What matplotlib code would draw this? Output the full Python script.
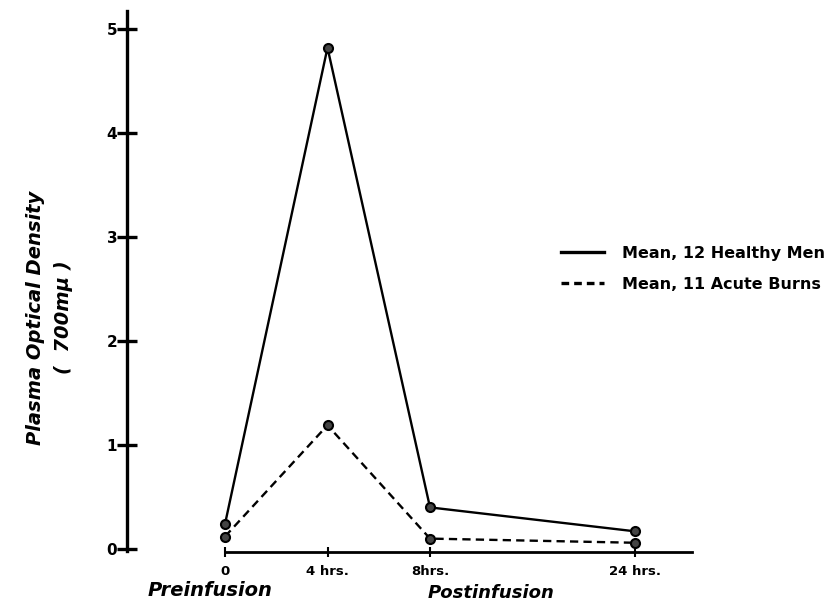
import matplotlib
matplotlib.use("Agg")
import matplotlib.pyplot as plt
from matplotlib.lines import Line2D

plt.rcParams["font.family"] = ["DejaVu Sans"]

# data
time_labels = ["0", "4 hrs.", "8hrs.", "24 hrs."]
time_pos = [0, 1, 2, 4]          # spacing as drawn on the original axis
healthy_men = [0.24, 4.82, 0.40, 0.17]
acute_burns = [0.12, 1.19, 0.10, 0.06]
y_ticks = [0, 1, 2, 3, 4, 5]

W, H = 834, 612
fig = plt.figure(figsize=(W / 100, H / 100), dpi=100)
ax = fig.add_axes([0, 0, 1, 1])
fig.patch.set_facecolor("white")

# map pixel frame: x=0 at px 225, 1 unit = 102.5 px ; y=0 at px 549, 1 unit = 104 px
x0, xs = 225, 102.5
y0, ys = 549, 104
ax.set_xlim(-x0 / xs, (W - x0) / xs)
ax.set_ylim(-(H - y0) / ys, y0 / ys)

line_kw = dict(color="black", lw=1.7, marker="o", markersize=6.5,
               markerfacecolor="#444444", markeredgecolor="black", markeredgewidth=1.5)
ax.plot(time_pos, healthy_men, linestyle="-", **line_kw)
ax.plot(time_pos, acute_burns, linestyle=(0, (3.5, 2.2)), **line_kw)

# spines as free-standing axes
for s in ["top", "right"]:
    ax.spines[s].set_visible(False)
ax.spines["left"].set_position(("data", (127 - x0) / xs))
ax.spines["left"].set_bounds(-0.02, 5.17)
ax.spines["left"].set_linewidth(2.4)
ax.spines["bottom"].set_position(("data", -0.03))
ax.spines["bottom"].set_bounds(0, (692 - x0) / xs)
ax.spines["bottom"].set_linewidth(2.0)

ax.set_yticks(y_ticks)
ax.set_yticklabels([str(v) for v in y_ticks], fontsize=11, fontweight="bold")
ax.tick_params(axis="y", direction="inout", length=14, width=2.4, pad=0)
ax.set_xticks(time_pos)
ax.set_xticklabels(time_labels, fontsize=9.5, fontweight="bold")
ax.tick_params(axis="x", direction="inout", length=7, width=1.5, pad=6)

# axis labels
ax.text(36 / W, 1 - 318 / H, "Plasma Optical Density", transform=fig.transFigure,
        rotation=90, ha="center", va="center", fontsize=14,
        fontweight="bold", style="italic")
ax.text(64 / W, 1 - 317 / H, "(  700m\u03bc )", transform=fig.transFigure,
        rotation=90, ha="center", va="center", fontsize=14,
        fontweight="bold", style="italic")
ax.text(210 / W, 1 - 591 / H, "Preinfusion", transform=fig.transFigure,
        ha="center", va="center", fontsize=14, fontweight="bold", style="italic")
ax.text(491 / W, 1 - 593 / H, "Postinfusion", transform=fig.transFigure,
        ha="center", va="center", fontsize=13, fontweight="bold", style="italic")

handles = [
    Line2D([0], [0], color="black", lw=2.4, linestyle="-", label="Mean, 12 Healthy Men"),
    Line2D([0], [0], color="black", lw=2.4, linestyle=(0, (2.3, 1.5)), label="Mean, 11 Acute Burns"),
]
leg = ax.legend(handles=handles, loc="center left", bbox_to_anchor=(561 / W, 1 - 269 / H),
                frameon=False, fontsize=11.5, handlelength=2.7, handletextpad=1.1,
                labelspacing=1.0, borderpad=0, borderaxespad=0)
for t in leg.get_texts():
    t.set_fontweight("bold")

fig.savefig("out.png", dpi=100, facecolor="white")
